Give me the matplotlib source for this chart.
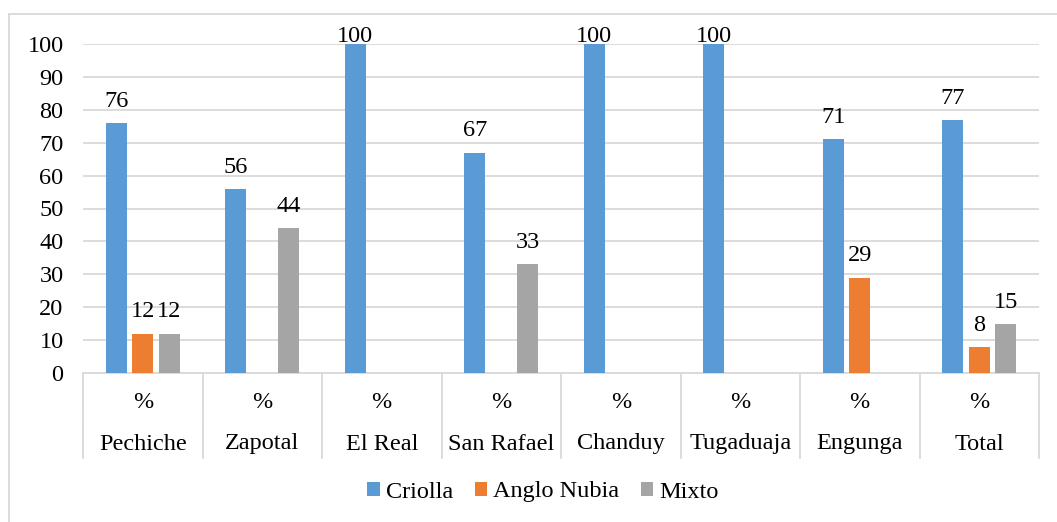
import matplotlib
matplotlib.use("Agg")
import matplotlib.pyplot as plt
import numpy as np
from matplotlib.lines import Line2D
from matplotlib.patches import Rectangle
import matplotlib.transforms as mtransforms

plt.rcParams['font.family'] = ['Liberation Serif', 'DejaVu Serif']

locations = ["Pechiche", "Zapotal", "El Real", "San Rafael", "Chanduy",
             "Tugaduaja", "Engunga", "Total"]
unit_row = ["%"] * len(locations)
series_names = ["Criolla", "Anglo Nubia", "Mixto"]
criolla = [76, 56, 100, 67, 100, 100, 71, 77]
anglo_nubia = [12, 0, 0, 0, 0, 0, 29, 8]
mixto = [12, 44, 0, 33, 0, 0, 0, 15]
yticks = [0, 10, 20, 30, 40, 50, 60, 70, 80, 90, 100]

colors = ["#5B9BD5", "#ED7D31", "#A5A5A5"]
FS = 17.5
YMAX = 100
W, H = 1057, 522
fig = plt.figure(figsize=(W / 100, H / 100), dpi=100)
ax = fig.add_axes([83 / W, 1 - 373 / H, (1039 - 83) / W, (373 - 44) / H])

x = np.arange(len(locations))
bar_w = 0.176
step = 0.222
for i, (vals, name, col) in enumerate(zip([criolla, anglo_nubia, mixto], series_names, colors)):
    pos = x + (i - 1) * step
    ax.bar(pos, vals, width=bar_w, color=col, label=name, zorder=3)
    for p, v in zip(pos, vals):
        if v > 0:
            # labels on full-height bars are kept inside the chart area
            off = -2 if v >= YMAX else 8
            ax.annotate(f"{v}", (p, v), xytext=(0, off), textcoords="offset points",
                        ha="center", va="bottom", fontsize=FS, color="#000000", zorder=4)

ax.set_xlim(-0.5, len(locations) - 0.5)
ax.set_ylim(0, YMAX)
ax.set_yticks(yticks)
ax.tick_params(axis="y", length=0, labelsize=FS, pad=14)
ax.set_xticks([])
ax.grid(axis="y", color="#D9D9D9", linewidth=1.3, zorder=0)
for s in ["top", "right", "left"]:
    ax.spines[s].set_visible(False)
ax.spines["bottom"].set_color("#D9D9D9")
ax.spines["bottom"].set_linewidth(1.3)

# Two-level category table below the axis
trans = mtransforms.blended_transform_factory(ax.transData, ax.transAxes)
ah = 373 - 44
y_mid = -(415 - 373) / ah
y_mid2 = -(417 - 373) / ah
y_bot = -(458 - 373) / ah
for b in np.arange(-0.5, len(locations), 1.0):
    ax.add_line(Line2D([b, b], [0, y_mid], transform=trans, color="#D9D9D9",
                       linewidth=1.3, clip_on=False))
    ax.add_line(Line2D([b, b], [y_mid2, y_bot], transform=trans, color="#D9D9D9",
                       linewidth=1.3, clip_on=False))
for xi, u, name in zip(x, unit_row, locations):
    ax.text(xi, -(402 - 373) / ah, u, transform=trans, ha="center", va="center", fontsize=FS)
    ax.text(xi, -(444 - 373) / ah, name, transform=trans, ha="center", va="center", fontsize=FS)

# Chart border
fig.add_artist(Rectangle((9 / W, -0.05), 1.1, 1 - 14 / H + 0.05, transform=fig.transFigure,
                         fill=False, edgecolor="#D9D9D9", linewidth=1.3))

handles, labels = ax.get_legend_handles_labels()
fig.legend(handles, labels, loc="center", bbox_to_anchor=(543 / W, 1 - 492 / H), ncol=3,
           frameon=False, fontsize=FS, handlelength=0.5, handleheight=0.5,
           handletextpad=0.25, columnspacing=0.9)

fig.savefig("out.png", dpi=100)
